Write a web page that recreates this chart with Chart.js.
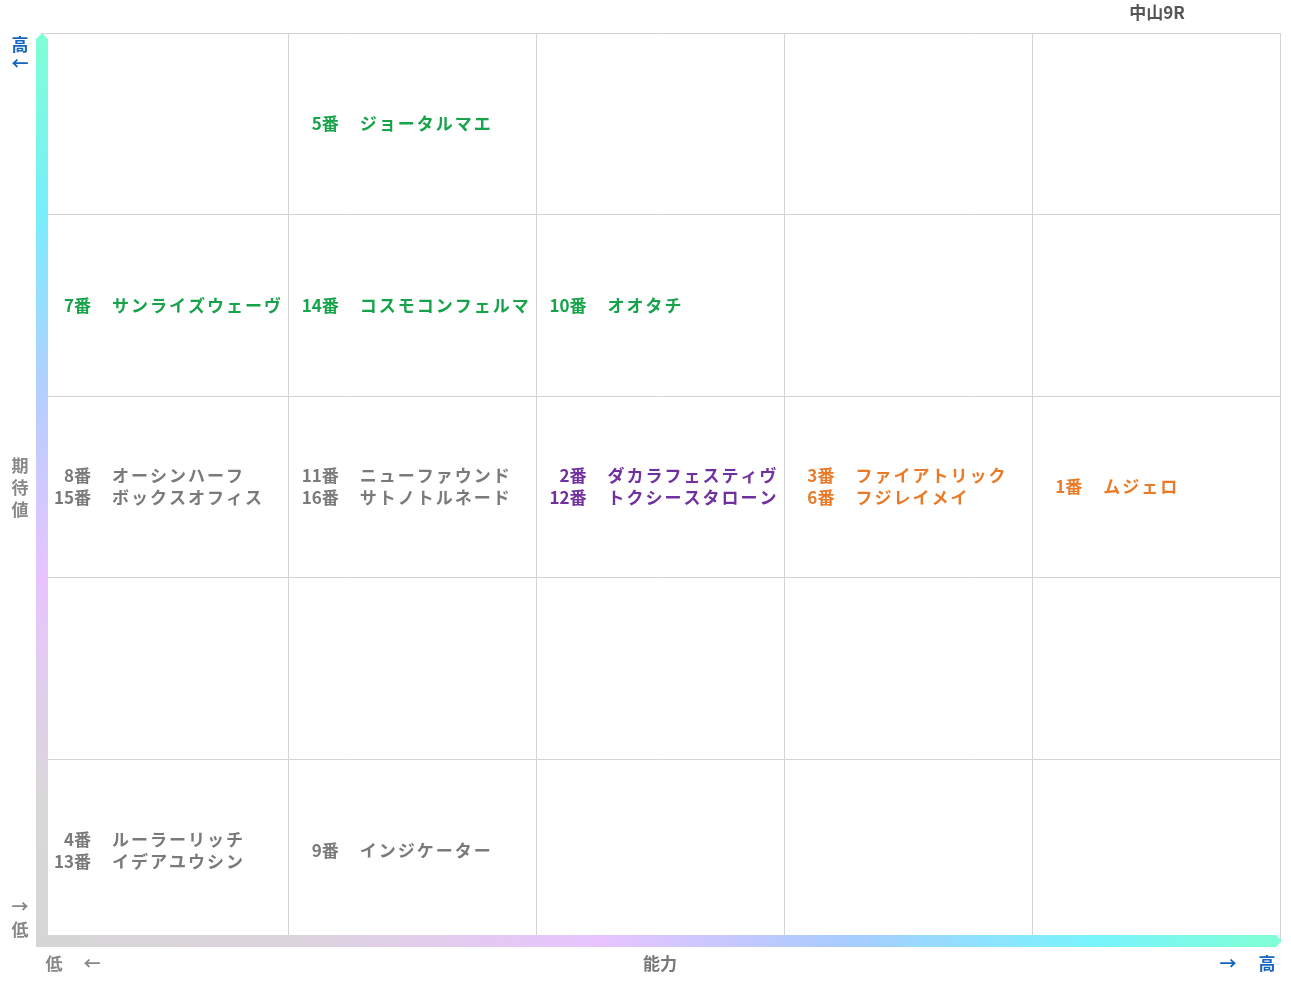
<!DOCTYPE html>
<html><head><meta charset="utf-8">
<script src="https://cdn.jsdelivr.net/npm/chart.js@4"></script>
<style>html,body{margin:0;padding:0;background:#fff}</style>
</head><body>
<canvas id="c" width="1291" height="983"></canvas>
<script>
const title = '中山9R';
const xAxisLabel = '能力';
const yAxisLabel = ['期','待','値'];
const horseNums = [5, 7, 14, 10, 8, 15, 11, 16, 2, 12, 3, 6, 1, 4, 13, 9];
const horseNames = ['ジョータルマエ','サンライズウェーヴ','コスモコンフェルマ','オオタチ','オーシンハーフ','ボックスオフィス','ニューファウンド','サトノトルネード','ダカラフェスティヴ','トクシースタローン','ファイアトリック','フジレイメイ','ムジェロ','ルーラーリッチ','イデアユウシン','インジケーター'];
const ability = [1, 0, 1, 2, 0, 0, 1, 1, 2, 2, 3, 3, 4, 0, 0, 1];
const expectation = [4, 3, 3, 3, 2, 2, 2, 2, 2, 2, 2, 2, 2, 0, 0, 0];
const horseColors = ['#16a34a','#16a34a','#16a34a','#16a34a','#7a7a7a','#7a7a7a','#7a7a7a','#7a7a7a','#7030a0','#7030a0','#ea7a26','#ea7a26','#ea7a26','#7a7a7a','#7a7a7a','#7a7a7a'];

const FONT = '"Noto Sans CJK JP", sans-serif';
const pts = horseNums.map((n,i)=>({x:ability[i]+0.5, y:expectation[i]+0.5}));

const deco = {
  id:'deco',
  afterDatasetsDraw(chart){
    const ctx = chart.ctx, a = chart.chartArea;
    const xs = chart.scales.x, ys = chart.scales.y;
    ctx.save();
    // labels grouped by cell
    const groups = {};
    horseNums.forEach((n,i)=>{const k=ability[i]+'_'+expectation[i];(groups[k]=groups[k]||[]).push(i);});
    ctx.font = 'bold 17px '+FONT;
    ctx.textBaseline = 'middle';
    Object.values(groups).forEach(g=>{
      g.forEach((i,j)=>{
        const left = xs.getPixelForValue(ability[i]);
        const cy = ys.getPixelForValue(expectation[i]+0.5) + (j-(g.length-1)/2)*22;
        ctx.fillStyle = horseColors[i];
        ctx.letterSpacing = '0px';
        ctx.textAlign = 'right';
        ctx.fillText(horseNums[i]+'番', left+50, cy);
        ctx.textAlign = 'left';
        ctx.letterSpacing = '2px';
        ctx.fillText(horseNames[i], left+71, cy);
      });
    });
    ctx.letterSpacing = '0px';
    // vertical bar
    let gv = ctx.createLinearGradient(0,a.top,0,a.bottom);
    gv.addColorStop(0,'#80ffd4');gv.addColorStop(0.2,'#78eefc');gv.addColorStop(0.38,'#b0d0ff');
    gv.addColorStop(0.6,'#e8c4ff');gv.addColorStop(0.85,'#d8d8d8');gv.addColorStop(1,'#d6d6d6');
    ctx.fillStyle = gv;
    ctx.beginPath();
    ctx.moveTo(a.left-5,a.top+6);ctx.lineTo(a.left+1,a.top);ctx.lineTo(a.left+7,a.top+6);
    ctx.lineTo(a.left+7,a.bottom);ctx.lineTo(a.left-5,a.bottom+6);ctx.closePath();ctx.fill();
    let gh = ctx.createLinearGradient(a.left,0,a.right,0);
    gh.addColorStop(0,'#d6d6d6');gh.addColorStop(0.2,'#dcd4dc');gh.addColorStop(0.45,'#e8c4ff');
    gh.addColorStop(0.65,'#a8ccff');gh.addColorStop(0.85,'#78f4fc');gh.addColorStop(1,'#80ffd4');
    ctx.fillStyle = gh;
    ctx.beginPath();
    ctx.moveTo(a.left-5,a.bottom+6);ctx.lineTo(a.left+7,a.bottom-6);ctx.lineTo(a.right-4,a.bottom-6);
    ctx.lineTo(a.right+2,a.bottom);ctx.lineTo(a.right-4,a.bottom+6);ctx.closePath();ctx.fill();
    // texts
    ctx.textAlign='center';
    ctx.font='bold 17px '+FONT;
    ctx.fillStyle='#555';ctx.fillText(title,1157,13);
    ctx.fillStyle='#777';ctx.fillText(xAxisLabel,660,964);
    ctx.fillStyle='#888';ctx.fillText('低',54,964);ctx.fillText('←',92,964);
    ctx.fillText('→',20,907);ctx.fillText('低',20,930);
    yAxisLabel.forEach((t,i)=>ctx.fillText(t,20,466+i*22));
    ctx.fillStyle='#1565c0';ctx.fillText('→',1228,964);ctx.fillText('高',1267,964);
    ctx.fillText('高',20,45);ctx.fillText('←',20,64);
    ctx.restore();
  }
};

new Chart(document.getElementById('c'),{
  type:'scatter',
  data:{datasets:[{data:pts,pointRadius:0,pointHoverRadius:0}]},
  options:{
    responsive:false,animation:false,
    layout:{padding:{left:41,top:33,right:11,bottom:42}},
    plugins:{legend:{display:false},tooltip:{enabled:false}},
    scales:{
      x:{min:0,max:5,ticks:{display:false,stepSize:1},grid:{color:'#d4d4d4',drawTicks:false},border:{display:false}},
      y:{min:0,max:5,ticks:{display:false,stepSize:1},grid:{color:'#d4d4d4',drawTicks:false},border:{display:false}}
    }
  },
  plugins:[deco]
});
</script>
</body></html>
